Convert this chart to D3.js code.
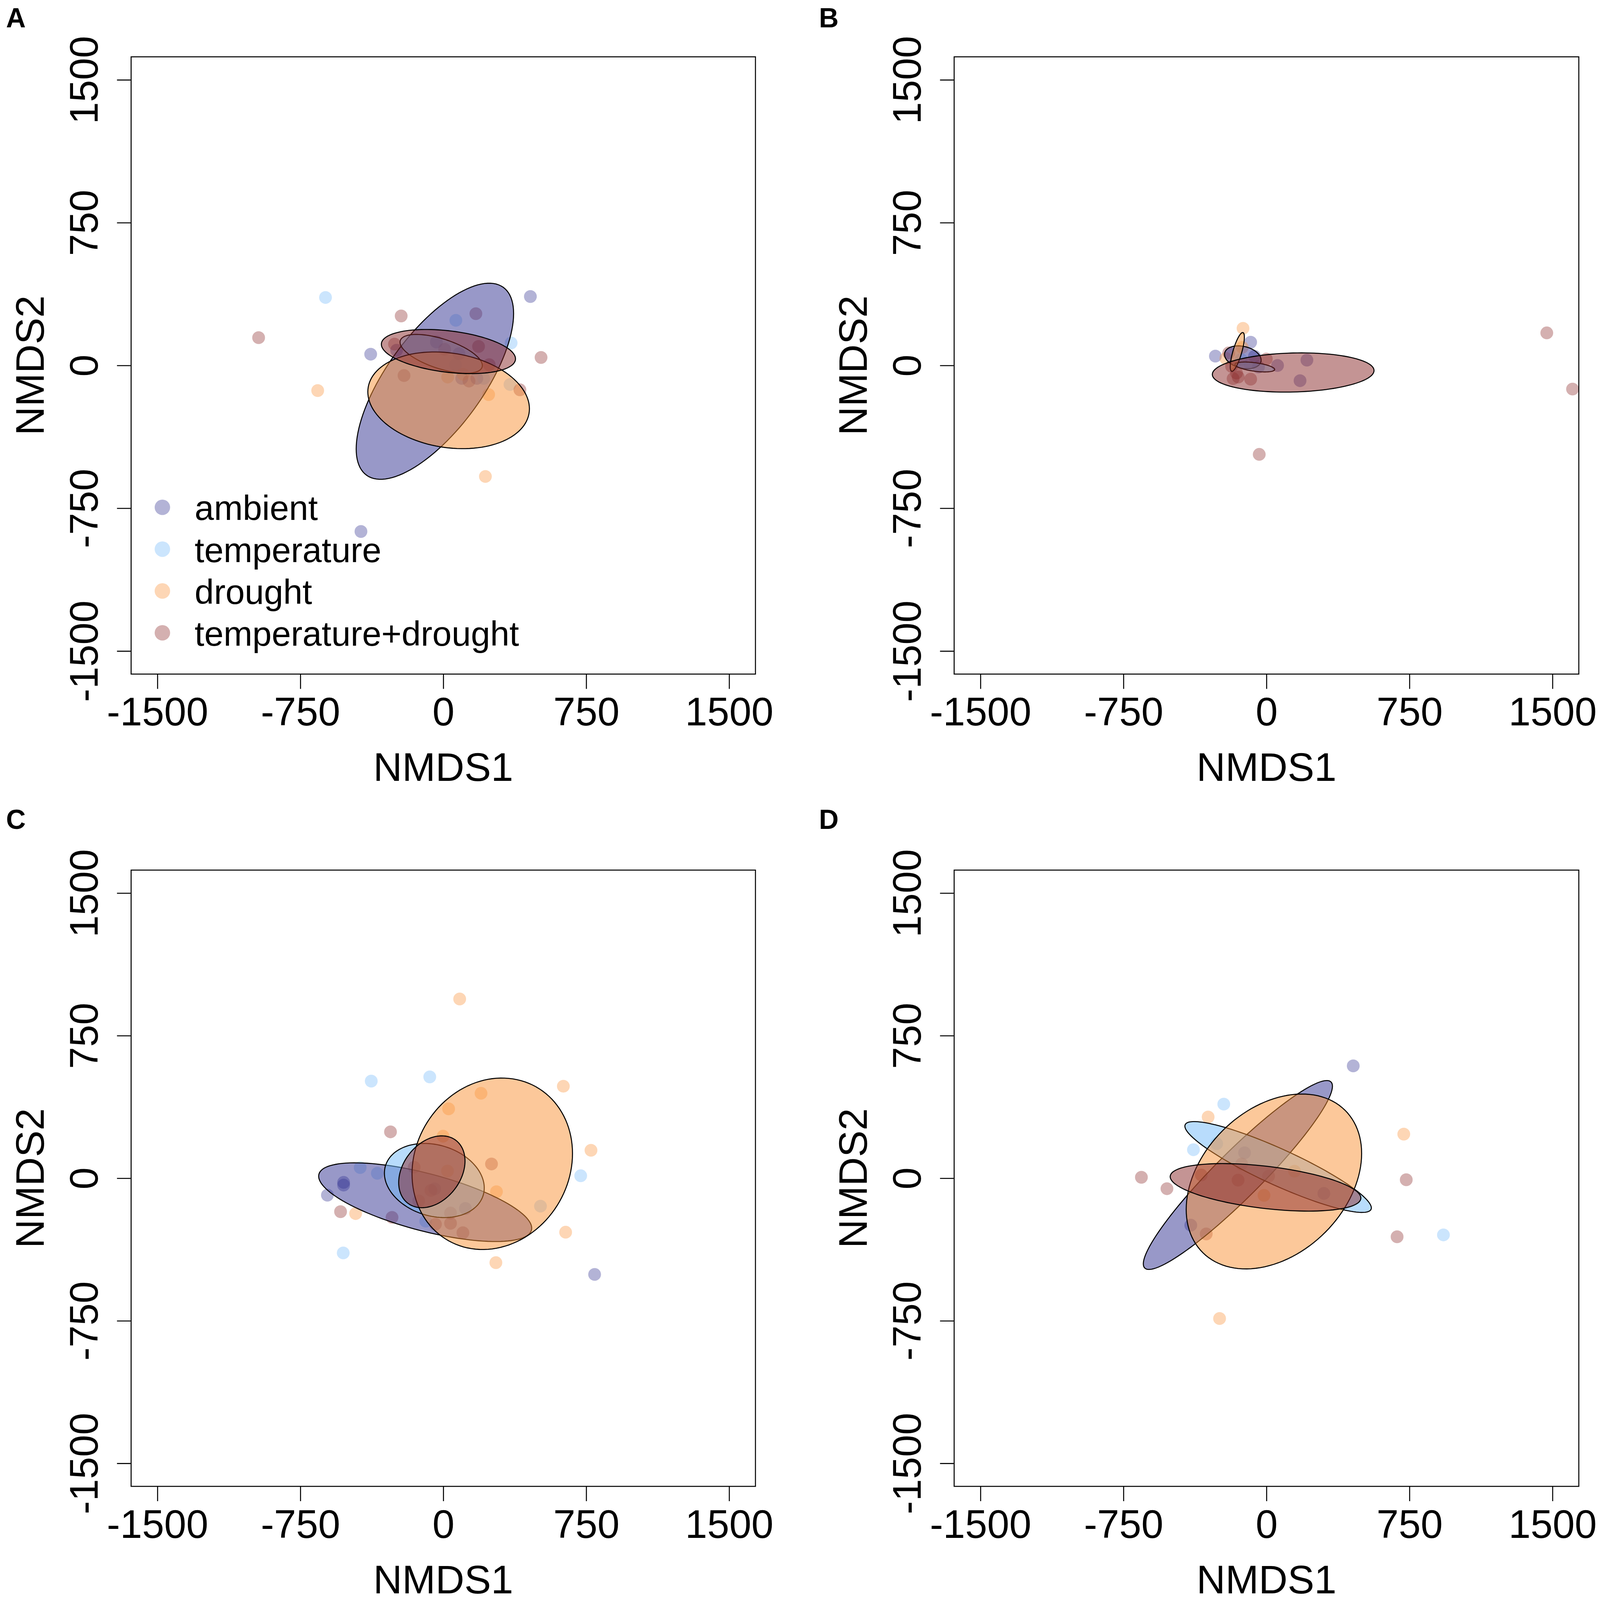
<!DOCTYPE html>
<html>
<head>
<meta charset="utf-8">
<script src="https://cdnjs.cloudflare.com/ajax/libs/d3/7.8.5/d3.min.js"></script>
<style>
html, body { margin: 0; padding: 0; background: #fff; overflow: hidden; }
svg { display: block; width: 100vw; height: 100vh; }
text { font-family: "Liberation Sans", Arial, sans-serif; }
</style>
</head>
<body>
<div id="chart"></div>
<script>
//treatments, colours, ticks
var groups = ["ambient", "temperature", "drought", "temperature+drought"];
var groupColors = ["#313191", "#71B9F9", "#F99135", "#892929"];
var tickValues = [-1500, -750, 0, 750, 1500];

// points: [NMDS1, NMDS2, group index]
// ellipses: [group index, centre x, centre y, sd x, sd y, correlation]
var pointsA = [
    [457, 362, 0], [-381, 59, 0], [-432, -872, 0], [-36, 123, 0], [-245, 80, 0], [82, 62, 0], [97, -68, 0], [176, -68, 0],
    [-618, 357, 1], [66, 237, 1], [356, 118, 1], [350, -100, 1], [212, -68, 1], [64, 4, 1],
    [-659, -132, 2], [238, -153, 2], [221, -583, 2], [104, -46, 2], [23, -61, 2],
    [-969, 146, 3], [-221, 260, 3], [171, 272, 3], [513, 42, 3], [-256, 112, 3], [185, 100, 3], [241, 4, 3],
    [135, -82, 3], [402, -128, 3], [-206, -53, 3], [7, 85, 3]
];
var ellipsesA = [
    [0, -44, -83, 413, 515, 0.69],
    [1, -11, 61, 216, 102, -0.6],
    [2, 28, -183, 424, 254, -0.175],
    [3, 27, 73, 352, 116, -0.33]
];

var pointsB = [
    [-83, 122, 0], [-268, 49, 0], [-63, 48, 0], [58, 0, 0], [212, 28, 0], [176, -80, 0], [-42, -8, 0],
    [-86, 7, 1], [-133, 31, 1],
    [-123, 195, 2], [-213, 37, 2], [-127, 95, 2],
    [1470, 171, 3], [1605, -124, 3], [-38, -467, 3], [-198, 66, 3], [-1, 34, 3], [-183, -5, 3],
    [-157, -40, 3], [-175, -69, 3], [-148, -61, 3], [-83, -72, 3]
];
var ellipsesB = [
    [0, -124, 43, 96, 60, -0.25],
    [1, -61, -8, 104, 26, -0.5],
    [2, -153, 71, 37, 102, 0.76],
    [3, 140, -37, 424, 103, 0.1]
];

var pointsC = [
    [-523, -22, 0], [-523, -36, 0], [-608, -89, 0], [794, -506, 0], [-45, -56, 0], [116, -159, 0],
    [-378, 511, 1], [-71, 533, 1], [721, 13, 1], [510, -147, 1], [-436, 56, 1], [-346, 26, 1], [-525, -393, 1], [-92, -226, 1],
    [86, 943, 2], [630, 484, 2], [775, 147, 2], [642, -284, 2], [276, -444, 2], [-460, -186, 2], [198, 447, 2],
    [28, 365, 2], [-1, 221, 2], [279, -71, 2], [22, 38, 2],
    [-277, 244, 3], [253, 75, 3], [-153, 58, 3], [-65, -64, 3], [-129, -119, 3], [-269, -206, 3], [-539, -176, 3],
    [-41, -242, 3], [103, -287, 3], [38, -183, 3], [38, -237, 3]
];
var ellipsesC = [
    [0, -95, -126, 559, 207, -0.66],
    [1, -47, -12, 262, 195, -0.2],
    [2, 257, 76, 421, 451, 0.12],
    [3, -60, 34, 174, 189, 0.3]
];

var pointsD = [
    [455, 591, 0], [-397, -247, 0], [301, -80, 0], [-115, 134, 0],
    [-224, 390, 1], [-383, 150, 1], [-261, 182, 1], [928, -298, 1],
    [-306, 322, 2], [720, 232, 2], [-246, -738, 2], [147, 37, 2], [-13, -90, 2],
    [-656, 5, 3], [-522, -55, 3], [-342, 17, 3], [-149, -10, 3], [733, -8, 3], [685, -308, 3],
    [-316, -293, 3], [11, 11, 3], [-130, 75, 3]
];
var ellipsesD = [
    [0, -150, 17, 496, 497, 0.94],
    [1, 61, 59, 489, 239, -0.9],
    [2, 39, -17, 460, 460, 0.32],
    [3, -5, -48, 500, 125, -0.45]
];

// layout of the four panels (pixel boxes)
var panels = [
    {label: "A", points: pointsA, ellipses: ellipsesA, left: 390, top: 165, right: 2247, bottom: 2001, lx: 18, ly: 77, legend: true},
    {label: "B", points: pointsB, ellipses: ellipsesB, left: 2838, top: 165, right: 4696, bottom: 2001, lx: 2436, ly: 77, legend: false},
    {label: "C", points: pointsC, ellipses: ellipsesC, left: 390, top: 2584, right: 2247, bottom: 4417, lx: 18, ly: 2461, legend: false},
    {label: "D", points: pointsD, ellipses: ellipsesD, left: 2838, top: 2584, right: 4696, bottom: 4417, lx: 2436, ly: 2461, legend: false}
];

var svg = d3.select("#chart").append("svg")
    .attr("viewBox", "0 0 4759 4751")
    .attr("preserveAspectRatio", "xMidYMid meet");
svg.append("rect").attr("width", 4759).attr("height", 4751).attr("fill", "white");
var defs = svg.append("defs");

function ellipsePoints(e) {
    var r = e[5];
    return d3.range(0, 121).map(function (i) {
        var t = i / 120 * 2 * Math.PI;
        return [e[1] + e[3] * Math.cos(t), e[2] + e[4] * (r * Math.cos(t) + Math.sqrt(1 - r * r) * Math.sin(t))];
    });
}

function drawPanel(p) {
    var g = svg.append("g");
    var x = d3.scaleLinear().domain([-1638, 1638]).range([p.left, p.right]);
    var y = d3.scaleLinear().domain([-1621, 1621]).range([p.bottom, p.top]);

    defs.append("clipPath").attr("id", "clip" + p.label)
        .append("rect")
        .attr("x", p.left).attr("y", p.top)
        .attr("width", p.right - p.left).attr("height", p.bottom - p.top);

    var plot = g.append("g").attr("clip-path", "url(#clip" + p.label + ")");

    plot.selectAll(".pt").data(p.points).enter().append("circle")
        .attr("class", "pt")
        .attr("cx", function (d) { return x(d[0]); })
        .attr("cy", function (d) { return y(d[1]); })
        .attr("r", 19)
        .attr("fill", function (d) { return groupColors[d[2]]; })
        .attr("fill-opacity", 0.37);

    var line = d3.line()
        .x(function (d) { return x(d[0]); })
        .y(function (d) { return y(d[1]); })
        .curve(d3.curveLinearClosed);

    plot.selectAll(".ell").data(p.ellipses).enter().append("path")
        .attr("class", "ell")
        .attr("d", function (e) { return line(ellipsePoints(e)); })
        .attr("fill", function (e) { return groupColors[e[0]]; })
        .attr("fill-opacity", 0.5)
        .attr("stroke", "black")
        .attr("stroke-width", 3);

    // box
    g.append("rect")
        .attr("x", p.left).attr("y", p.top)
        .attr("width", p.right - p.left).attr("height", p.bottom - p.top)
        .attr("fill", "none").attr("stroke", "black").attr("stroke-width", 3);

    // axes
    var xa = g.append("g").attr("transform", "translate(0," + p.bottom + ")")
        .call(d3.axisBottom(x).tickValues(tickValues).tickSize(44).tickPadding(25)
            .tickFormat(function (d) { return String(d); }));
    var ya = g.append("g").attr("transform", "translate(" + p.left + ",0)")
        .call(d3.axisLeft(y).tickValues(tickValues).tickSize(42)
            .tickFormat(function (d) { return String(d); }));
    [xa, ya].forEach(function (a) {
        a.select(".domain").remove();
        a.attr("font-size", 118).attr("font-family", null);
        a.selectAll("line").attr("stroke-width", 3);
        a.selectAll("text").attr("fill", "black");
    });
    ya.selectAll("text")
        .attr("x", 0).attr("dy", 0)
        .attr("text-anchor", "middle")
        .attr("transform", "translate(-99,0) rotate(-90)");

    g.append("text")
        .attr("x", (p.left + p.right) / 2).attr("y", p.bottom + 318)
        .attr("text-anchor", "middle").attr("font-size", 119)
        .text("NMDS1");
    g.append("text")
        .attr("transform", "translate(" + (p.left - 260) + "," + ((p.top + p.bottom) / 2) + ") rotate(-90)")
        .attr("text-anchor", "middle").attr("font-size", 119)
        .text("NMDS2");

    g.append("text")
        .attr("x", p.lx).attr("y", p.ly)
        .attr("font-size", 81).attr("font-weight", "bold")
        .text(p.label);

    if (p.legend) {
        var leg = g.append("g");
        var items = leg.selectAll(".leg").data(groups).enter().append("g")
            .attr("class", "leg")
            .attr("transform", function (d, i) { return "translate(483," + (1505 + i * 124.4) + ")"; });
        items.append("circle").attr("r", 23)
            .attr("fill", function (d, i) { return groupColors[i]; })
            .attr("fill-opacity", 0.37);
        items.append("text").attr("x", 96).attr("y", 38)
            .attr("font-size", 103)
            .text(function (d) { return d; });
    }
}

panels.forEach(drawPanel);
</script>
</body>
</html>
